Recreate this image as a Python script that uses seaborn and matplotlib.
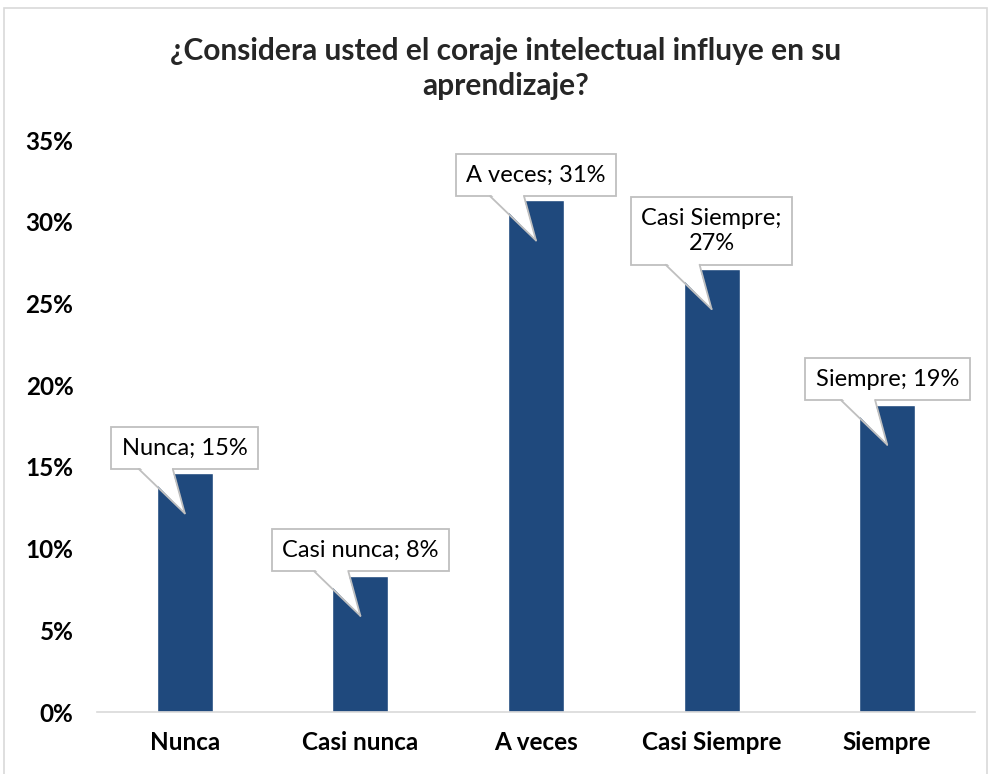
import pandas as pd
import matplotlib.pyplot as plt
import matplotlib.ticker as ticker
import matplotlib.transforms as mtransforms
from matplotlib.patches import Polygon
from matplotlib.lines import Line2D
import seaborn as sns

# data (48 respondents)
categorias = ["Nunca", "Casi nunca", "A veces", "Casi Siempre", "Siempre"]
porcentajes = [14.6, 8.33, 31.3, 27.1, 18.8]
etiquetas = ["Nunca; 15%", "Casi nunca; 8%", "A veces; 31%", "Casi Siempre;\n27%", "Siempre; 19%"]

BAR_COLOR = "#1F497D"
EDGE_GRAY = "#BFBFBF"

sns.set_theme(style="white")
plt.rcParams['font.family'] = ['Lato', 'DejaVu Sans']

df = pd.DataFrame({"cat": categorias, "pct": porcentajes})

fig = plt.figure(figsize=(9.91, 7.74), dpi=100)
ax = fig.add_axes([97/991, 62/774, 878/991, 572/774])

sns.barplot(data=df, x="cat", y="pct", color=BAR_COLOR, width=0.32, saturation=1, ax=ax)

ax.set_ylim(0, 35)
ax.set_xlim(-0.5, len(categorias) - 0.5)
ax.yaxis.set_major_locator(ticker.MultipleLocator(5))
ax.yaxis.set_major_formatter(ticker.FuncFormatter(lambda v, p: f"{v:.0f}%"))
ax.set_xlabel("")
ax.set_ylabel("")
ax.tick_params(axis="y", length=0, pad=17, labelsize=17.5)
ax.tick_params(axis="x", length=0, pad=14, labelsize=17.5)
for lab in ax.get_xticklabels() + ax.get_yticklabels():
    lab.set_fontweight("bold")
    lab.set_color("black")

for s in ["left", "right", "top"]:
    ax.spines[s].set_visible(False)
ax.spines["bottom"].set_color("#D9D9D9")
ax.spines["bottom"].set_linewidth(1.2)

# callout boxes (text + bbox), placed a few pixels above each bar top
textos = []
for i, (v, txt) in enumerate(zip(porcentajes, etiquetas)):
    tr = mtransforms.offset_copy(ax.transData, fig=fig, x=0, y=15, units="dots")
    t = ax.text(i, v, txt, transform=tr, ha="center", va="bottom", fontsize=17,
                color="black", linespacing=1.25, zorder=5,
                bbox=dict(boxstyle="square,pad=0.45", fc="white", ec=EDGE_GRAY, lw=1.3))
    textos.append(t)

# pointer wedges, joined to the box bottom
fig.canvas.draw()
renderer = fig.canvas.get_renderer()
for i, (v, t) in enumerate(zip(porcentajes, textos)):
    ext = t.get_bbox_patch().get_window_extent(renderer)
    bx, by = ax.transData.transform((i, v))
    tip = (bx, by - 40)
    left = (bx - 46, ext.y0)
    right = (bx - 12, ext.y0)
    fill = Polygon([(left[0] + 1, ext.y0 + 1.5), (right[0] - 1, ext.y0 + 1.5), tip],
                   closed=True, fc="white", ec="none", transform=None, zorder=6)
    fig.add_artist(fill)
    for p in (left, right):
        fig.add_artist(Line2D([p[0], tip[0]], [p[1], tip[1]], color=EDGE_GRAY, lw=1.3,
                              transform=None, zorder=7))

fig.text(0.51, 0.911, "¿Considera usted el coraje intelectual influye en su\naprendizaje?",
         ha="center", va="center", fontsize=21.5, fontweight="bold", linespacing=1.3)

fig.add_artist(plt.Rectangle((4/991, -0.01), 983/991, 1.0, transform=fig.transFigure,
                             fill=False, ec="#D9D9D9", lw=1.2))

fig.savefig("out.png", dpi=100)
